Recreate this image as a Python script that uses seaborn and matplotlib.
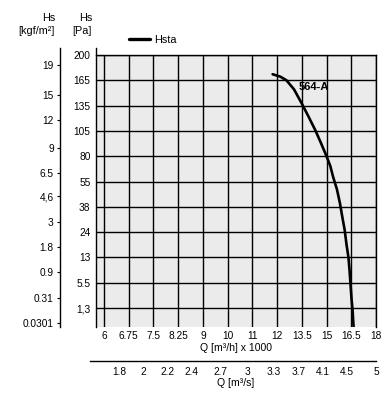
import matplotlib
matplotlib.use("Agg")
import matplotlib.pyplot as plt
import numpy as np
import seaborn as sns

# axis values (the chart uses an evenly spaced, non-linear grid)
q_ticks = [6, 6.75, 7.5, 8.25, 9, 10, 11, 12, 13.5, 15, 16.5, 18]
q_labels = ["6", "6.75", "7.5", "8.25", "9", "10", "11", "12", "13.5", "15", "16.5", "18"]
pa_ticks = [1.3, 5.5, 13, 24, 38, 55, 80, 105, 135, 165, 200]
pa_labels = ["1,3", "5.5", "13", "24", "38", "55", "80", "105", "135", "165", "200"]
kgf_ticks = [19, 15, 12, 9, 6.5, 4.6, 3, 1.8, 0.9, 0.31, 0.0301]
kgf_labels = ["19", "15", "12", "9", "6.5", "4,6", "3", "1.8", "0.9", "0.31", "0.0301"]
m3s_ticks = [1.8, 2, 2.2, 2.4, 2.7, 3, 3.3, 3.7, 4.1, 4.5, 5]
m3s_labels = ["1.8", "2", "2.2", "2.4", "2.7", "3", "3.3", "3.7", "4.1", "4.5", "5"]

# curve 564-A (Q in 1000 m3/h, Hs in Pa)
curve_q = [11.82, 12.21, 12.57, 13.03, 13.5, 13.9, 14.31, 14.65, 15.0, 15.23, 15.4,
           15.63, 15.81, 15.95, 16.1, 16.21, 16.33, 16.4, 16.46, 16.52, 16.58, 16.64]
curve_hs = [173.4, 169.9, 165, 154.2, 137.4, 122.3, 106.2, 93.5, 80, 70.2, 59.5,
            49.8, 40.6, 32.75, 25.2, 18.7, 13, 8.9, 4.98, 2.7, 1.16, 0]

G = 9.80665


def make_scale(vals, pos):
    vals = np.asarray(vals, float)
    pos = np.asarray(pos, float)

    def conv(v, a, b):
        v = np.asarray(v, float)
        out = np.interp(v, a, b)
        lo = (b[1] - b[0]) / (a[1] - a[0])
        hi = (b[-1] - b[-2]) / (a[-1] - a[-2])
        out = np.where(v < a[0], b[0] + (v - a[0]) * lo, out)
        out = np.where(v > a[-1], b[-1] + (v - a[-1]) * hi, out)
        return out

    return (lambda v: conv(v, vals, pos)), (lambda p: conv(p, pos, vals))


xfun = make_scale(q_ticks, np.arange(len(q_ticks)))
yfun = make_scale([0] + pa_ticks, [-0.75] + list(range(len(pa_ticks))))

sns.set_style("white")
plt.rcParams["font.family"] = ["Liberation Sans Narrow", "Liberation Sans", "DejaVu Sans"]
plt.rcParams["text.color"] = "black"
plt.rcParams["axes.labelcolor"] = "black"
plt.rcParams["xtick.color"] = "black"
plt.rcParams["ytick.color"] = "black"

fig = plt.figure(figsize=(3.92, 4.04), dpi=100)
ax = fig.add_axes([96 / 392, 77 / 404, 280 / 392, 272 / 404])
ax.set_facecolor("#ebebeb")
ax.set_xscale("function", functions=xfun)
ax.set_yscale("function", functions=yfun)

sns.lineplot(x=curve_q, y=curve_hs, ax=ax, color="black", lw=1.9, label="Hsta", sort=False)

xl = (xfun[1](-0.32).item(), 18)
ytop = yfun[1](10.28).item()
ax.set_xlim(*xl)
ax.set_ylim(0, 200)
ax.set_xticks(q_ticks, q_labels)
ax.set_yticks(pa_ticks, pa_labels)
ax.grid(True, color="black", lw=1.0)
for s in ["top", "right", "left"]:
    ax.spines[s].set_color("black")
    ax.spines[s].set_linewidth(1.0)
ax.spines["left"].set_bounds(0, ytop)
ax.spines["bottom"].set_visible(False)
ax.tick_params(axis="x", length=0, pad=3, labelsize=7.3)
ax.tick_params(axis="y", length=0, pad=4, labelsize=7.3)
ax.set_xlabel("Q [m³/h] x 1000", fontsize=7.6, labelpad=1)
ax.set_ylabel("")

ax.text(14.25, 157, "564-A", ha="center", va="center", fontsize=8, fontweight="bold")

ax.legend(loc="center left", bbox_to_anchor=(129 / 392, 1 - 40 / 404),
          bbox_transform=fig.transFigure, frameon=False, borderpad=0,
          borderaxespad=0, handlelength=1.9, handletextpad=0.4, fontsize=7.8)
ax.get_legend().get_lines()[0].set_linewidth(2.4)

# kgf/m2 axis on the far left
axk = ax.twinx()
axk.set_yscale("function", functions=yfun)
axk.set_ylim(0, 200)
axk.set_yticks([k * G for k in kgf_ticks], kgf_labels)
axk.yaxis.set_ticks_position("left")
axk.yaxis.set_label_position("left")
for s in ["top", "right", "bottom"]:
    axk.spines[s].set_visible(False)
axk.spines["left"].set_position(("axes", -36 / 280))
axk.spines["left"].set_color("black")
axk.spines["left"].set_linewidth(1.0)
axk.spines["left"].set_bounds(0, ytop)
axk.tick_params(axis="y", length=2.5, width=0.8, pad=2, labelsize=7.3)

# m3/s axis below
axs = ax.twiny()
axs.set_xscale("function", functions=xfun)
axs.set_xlim(*xl)
axs.set_xticks([m * 3.6 for m in m3s_ticks], m3s_labels)
axs.xaxis.set_ticks_position("bottom")
axs.xaxis.set_label_position("bottom")
for s in ["top", "right", "left"]:
    axs.spines[s].set_visible(False)
axs.spines["bottom"].set_position(("axes", -34 / 272))
axs.spines["bottom"].set_color("black")
axs.spines["bottom"].set_linewidth(1.0)
axs.spines["bottom"].set_bounds(xfun[1](-0.57).item(), 18)
axs.tick_params(axis="x", length=0, pad=4, labelsize=7.3)
axs.set_xlabel("Q [m³/s]", fontsize=7.6, labelpad=1)

# axis headers
for x, txt in [(55, "Hs"), (92, "Hs")]:
    fig.text(x / 392, 1 - 18 / 404, txt, ha="right", va="center", fontsize=7.8)
fig.text(55 / 392, 1 - 31 / 404, "[kgf/m²]", ha="right", va="center", fontsize=7.8)
fig.text(92 / 392, 1 - 31 / 404, "[Pa]", ha="right", va="center", fontsize=7.8)

plt.savefig("out.png", dpi=100)
